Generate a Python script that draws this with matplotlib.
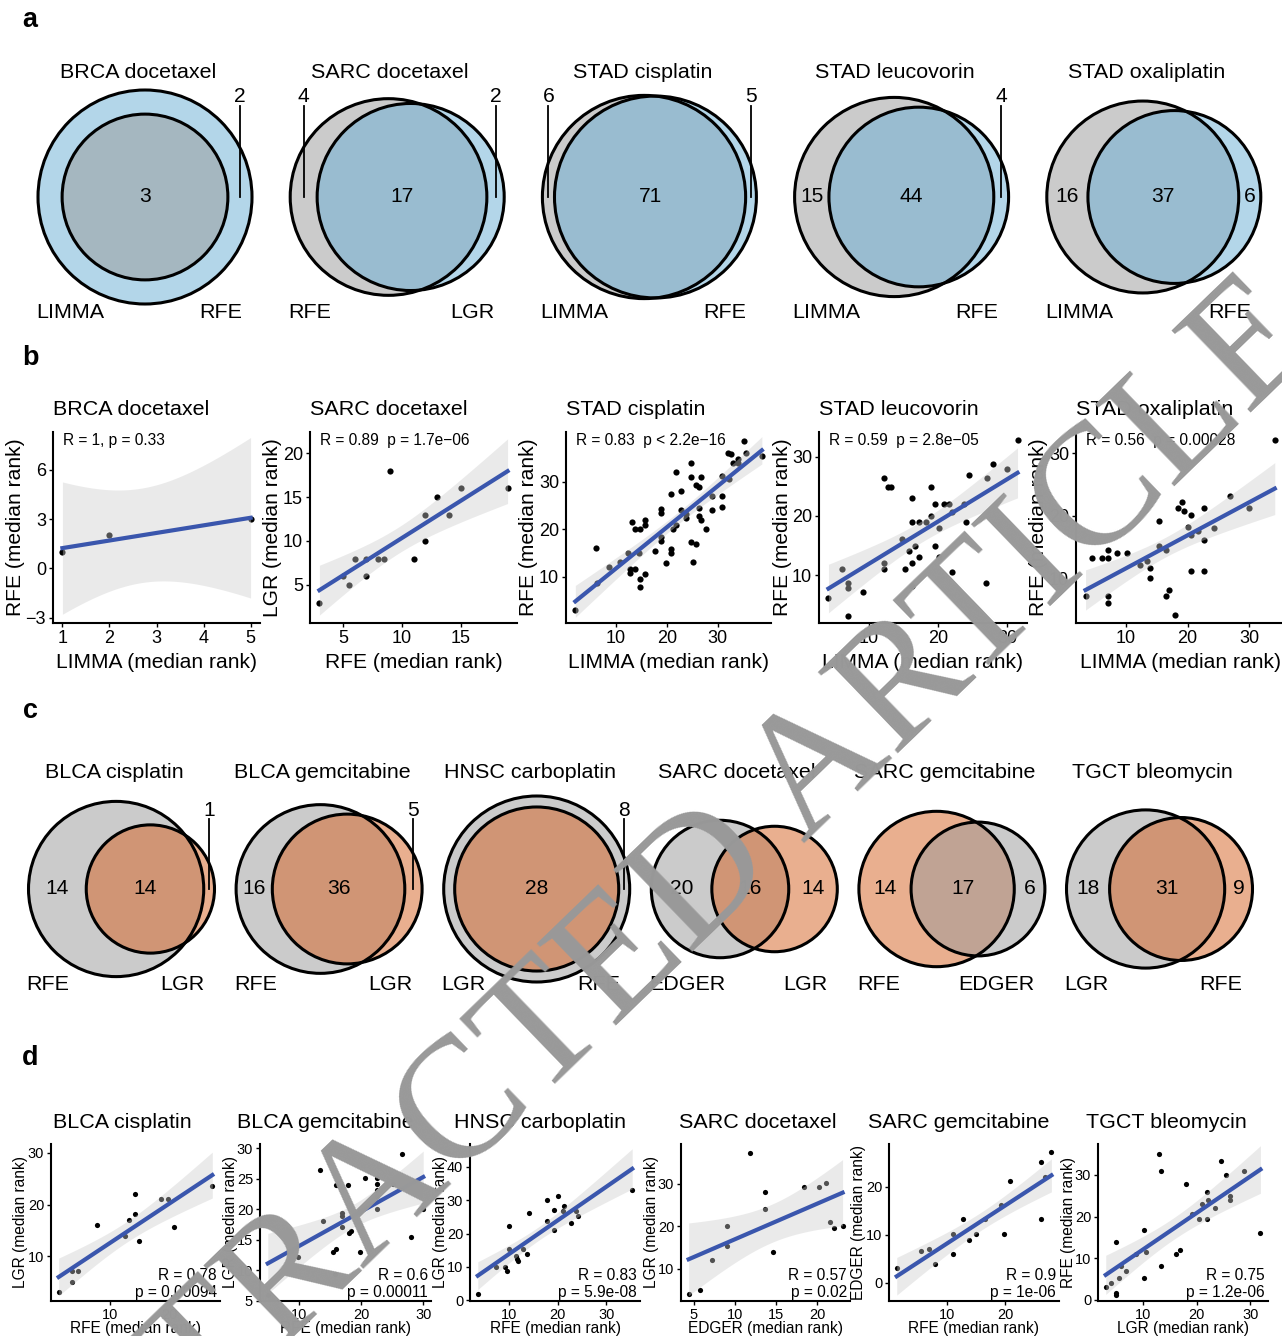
import math
import numpy as np
import matplotlib
matplotlib.use('Agg')
import matplotlib.pyplot as plt
from matplotlib.patches import Circle

plt.rcParams['font.family'] = ['Liberation Sans', 'DejaVu Sans']

W, H = 1282, 1336

# ---------------- data ----------------
# venn counts: (left only, both, right only)
a_titles = ['BRCA docetaxel', 'SARC docetaxel', 'STAD cisplatin', 'STAD leucovorin', 'STAD oxaliplatin']
a_sets = [('LIMMA', 'RFE'), ('RFE', 'LGR'), ('LIMMA', 'RFE'), ('LIMMA', 'RFE'), ('LIMMA', 'RFE')]
a_counts = [(0, 3, 2), (4, 17, 2), (6, 71, 5), (15, 44, 4), (16, 37, 6)]

c_titles = ['BLCA cisplatin', 'BLCA gemcitabine', 'HNSC carboplatin', 'SARC docetaxel',
            'SARC gemcitabine', 'TGCT bleomycin']
c_sets = [('RFE', 'LGR'), ('RFE', 'LGR'), ('LGR', 'RFE'), ('EDGER', 'LGR'), ('RFE', 'EDGER'), ('LGR', 'RFE')]
c_counts = [(14, 14, 1), (16, 36, 5), (8, 28, 0), (20, 16, 14), (14, 17, 6), (18, 31, 9)]

# panel b scatter data (median ranks)
brca_doc_x = [1, 2, 5]
brca_doc_y = [1, 2, 3]
sarc_doc_x = [3, 5, 5.5, 6, 7, 7, 8, 8.5, 9, 11, 12, 12, 13, 14, 15, 19]
sarc_doc_y = [3, 6, 5, 8, 8, 6, 8, 8, 18, 8, 10, 13, 15, 13, 16, 16]
stad_cis_x = [2, 6, 6.3, 8.7, 10.8, 12.3, 12.7, 12.8, 13.8, 13.2, 13.8, 14.8, 14.6, 14.8, 14.8,
              15.8, 15.8, 15.8, 17.7, 18.8, 18.8, 18.8, 18.8, 19.8, 20.8, 20.8, 20.8, 21.3, 21.8,
              21.8, 22.8, 22.8, 23.7, 23.7, 24.8, 24.8, 24.8, 25.8, 25.2, 25.8, 26.3, 26.8, 26.3,
              26.3, 26.8, 27.8, 28.8, 28.8, 30.8, 30.8, 30.8, 32.1, 32.6, 32.2, 33.1, 34.1, 34.1,
              35.2, 35.6, 38.7]
stad_cis_y = [3, 16, 8.6, 12, 13, 15, 11.7, 10.8, 11.7, 21.5, 20, 20, 15, 9.5, 7.9,
              10.5, 22, 21, 15.4, 24.3, 23.4, 18.4, 17.5, 12.9, 27.5, 15.8, 14.9, 20, 21,
              32, 28, 24, 23.2, 22.4, 34, 31, 17.4, 16.9, 13, 29.4, 28.9, 31, 24.4,
              22.8, 22, 20, 27, 24, 31.3, 27, 24.6, 36.1, 35.8, 30.5, 34, 34.9, 34,
              38.6, 36.1, 35.5]
stad_leu_x = [4.1, 6.0, 7.0, 7.0, 7.0, 9.1, 12.2, 12.7, 13.2, 12.2, 12.2, 14.7, 15.2, 15.8, 16.2,
              16.2, 16.2, 16.2, 16.7, 17.2, 17.2, 18.3, 19.0, 19.0, 19.6, 19.6, 20.1, 20.1, 20.8,
              21.5, 22.0, 22.0, 23.8, 24.5, 24.0, 26.9, 27.1, 28.0, 30.0, 31.5]
stad_leu_y = [6.2, 11.1, 8.6, 7.9, 3.1, 7.2, 26.4, 24.9, 24.9, 12.1, 11.1, 16.1, 11.1, 14, 23,
              19, 12.1, 8.1, 15, 19, 13, 19, 24.9, 20, 22, 15, 18, 13, 22,
              22, 20.6, 10.5, 22, 26.9, 19, 8.6, 26.4, 28.8, 27.9, 32.8]
stad_oxa_x = [3.4, 4.4, 6.0, 7.1, 7.1, 7.1, 7.1, 8.6, 10.2, 12.3, 13.4, 13.9, 13.9, 15.4, 15.4,
              16.5, 16.5, 17.0, 18.0, 18.5, 19.1, 19.5, 20.1, 20.6, 20.6, 20.6, 21.7, 22.6, 22.6,
              22.6, 24.3, 26.9, 30.0, 34.2]
stad_oxa_y = [7.1, 13.2, 13.2, 13.2, 14.6, 7.2, 6.1, 14.1, 14.1, 12.1, 12.7, 11.6, 10.1, 19.1, 15.1,
              14.6, 7.2, 8.1, 4.1, 21.2, 22.2, 20.7, 18.2, 20.1, 17.0, 11.2, 17.6, 21.2, 16.2,
              11.2, 18.1, 23.1, 21.2, 32.2]

# panel d scatter data
blca_cis_x = [1.25, 3.5, 3.5, 4.5, 7.8, 12.4, 13.2, 14.2, 14.2, 14.8, 18.6, 19.7, 20.8, 27.2]
blca_cis_y = [3.15, 5.1, 7.1, 7.1, 16.1, 14, 17.1, 18.1, 22.1, 12.9, 21.1, 21.1, 15.6, 23.5]
blca_gem_x = [5.0, 8.8, 9.9, 13.4, 13.9, 15.9, 15.9, 15.5, 15.8, 16.9, 16.9, 16.9, 17.9, 18.0,
              18.4, 19.8, 19.8, 20.6, 22.6, 22.6, 22.6, 22.6, 22.6, 25.1, 26.6, 28.0, 30.0]
blca_gem_y = [5.9, 13.1, 12.2, 26.5, 18.0, 23.9, 13.4, 12.9, 9.4, 19.3, 18.9, 17.0, 23.9, 16.1,
              16.5, 13.0, 19.7, 25.1, 25.1, 24.1, 23.1, 22.1, 20.0, 24.2, 29.1, 15.4, 20.1]
hnsc_carbo_x = [3.6, 7.4, 9.1, 9.5, 10.0, 10.0, 11.4, 11.7, 11.9, 12.9, 13.7, 14.1, 17.8, 17.8,
                19.2, 19.2, 20.1, 21.0, 21.4, 22.8, 23.8, 24.2, 35.3]
hnsc_carbo_y = [2.0, 9.9, 9.9, 8.9, 22.2, 15.3, 13.3, 12.5, 11.8, 15.5, 14.0, 26.2, 30.1, 23.7,
                27.1, 21.2, 31.1, 26.7, 28.1, 23.2, 26.7, 25.2, 32.9]
sarc_doce_x = [4.4, 5.8, 7.2, 9.0, 9.0, 11.8, 13.7, 13.7, 14.6, 18.4, 20.2, 21.1, 21.6, 22.1, 23.1]
sarc_doce_y = [3.9, 4.9, 11.9, 20.0, 15.4, 37.1, 28.1, 24.0, 14.0, 29.1, 29.1, 30.1, 21.0, 19.5, 20.0]
sarc_gem_x = [1.4, 5.6, 6.9, 7.9, 11.1, 11.1, 12.7, 13.8, 14.9, 16.6, 19.2, 19.7, 20.8, 26.2,
              26.2, 26.8, 27.9]
sarc_gem_y = [3.0, 6.6, 7.1, 4.0, 10.1, 5.9, 13.2, 9.0, 10.1, 13.2, 16.2, 10.1, 21.1, 25.2,
              13.2, 22.1, 27.2]
tgct_bleo_x = [3.1, 4.1, 5.0, 5.0, 5.0, 5.5, 5.9, 6.9, 8.75, 10.2, 10.2, 10.6, 13.0, 13.4, 13.4,
               16.25, 16.9, 18.1, 19.1, 20.5, 21.0, 22.0, 22.0, 22.2, 23.4, 24.5, 25.5, 26.25,
               26.25, 28.75, 31.9]
tgct_bleo_y = [3.2, 4.1, 14, 1.7, 1.2, 5.2, 8.1, 7, 11.1, 16.7, 5.2, 11.5, 34.9, 31, 8.1,
               11.1, 12.1, 27.9, 20.5, 19.4, 23, 26, 19.4, 24, 22.1, 33.3, 29.9, 25,
               24, 31, 16]

b_titles = ['BRCA docetaxel', 'SARC docetaxel', 'STAD cisplatin', 'STAD leucovorin', 'STAD oxaliplatin']
b_xlab = ['LIMMA', 'RFE', 'LIMMA', 'LIMMA', 'LIMMA']
b_ylab = ['RFE', 'LGR', 'RFE', 'RFE', 'RFE']
b_stats = ['R = 1, p = 0.33', 'R = 0.89  p = 1.7e\u221206', 'R = 0.83  p < 2.2e\u221216',
           'R = 0.59  p = 2.8e\u221205', 'R = 0.56  p = 0.00028']
d_titles = c_titles
d_xlab = ['RFE', 'RFE', 'RFE', 'EDGER', 'RFE', 'LGR']
d_ylab = ['LGR', 'LGR', 'LGR', 'LGR', 'EDGER', 'RFE']
d_r = ['R = 0.78', 'R = 0.6', 'R = 0.83', 'R = 0.57', 'R = 0.9', 'R = 0.75']
d_p = ['p = 0.00094', 'p = 0.00011', 'p = 5.9e-08', 'p = 0.02', 'p = 1e-06', 'p = 1.2e-06']

GRAY, BLUE, SALMON = '#999999', '#69afd5', '#d56121'

fig = plt.figure(figsize=(W / 100, H / 100), dpi=100)


def pt(px):
    return px * 0.72


def ftext(x, y, s, size, **kw):
    fig.text(x / W, 1 - y / H, s, fontsize=pt(size), **kw)


# overlay axes in pixel coordinates for the venn diagrams
ov = fig.add_axes([0, 0, 1, 1])
ov.set_xlim(0, W)
ov.set_ylim(H, 0)
ov.axis('off')


def lens_area(r1, r2, d):
    if d >= r1 + r2:
        return 0.0
    if d <= abs(r1 - r2):
        return math.pi * min(r1, r2) ** 2
    a1 = r1 ** 2 * math.acos((d * d + r1 * r1 - r2 * r2) / (2 * d * r1))
    a2 = r2 ** 2 * math.acos((d * d + r2 * r2 - r1 * r1) / (2 * d * r2))
    a3 = 0.5 * math.sqrt((-d + r1 + r2) * (d + r1 - r2) * (d - r1 + r2) * (d + r1 + r2))
    return a1 + a2 - a3


def venn(cx, cy, width, counts, colors, names, title, ext, ytitle, ylab, yext):
    lo, both, ro = counts
    r1, r2 = math.sqrt(lo + both), math.sqrt(ro + both)
    nested = lo == 0 or ro == 0
    if nested:
        k = width / 2 / max(r1, r2)
        x1 = x2 = cx
    else:
        target = math.pi * both  # area units: pi*r^2 = count
        a, b = abs(r1 - r2), r1 + r2
        for _ in range(80):
            m = (a + b) / 2
            if lens_area(r1, r2, m) > target:
                a = m
            else:
                b = m
        d = (a + b) / 2
        k = width / (r1 + d + r2)
        x1 = cx - width / 2 + r1 * k
        x2 = cx + width / 2 - r2 * k
    R1, R2 = r1 * k, r2 * k
    circ = [(x1, R1, colors[0]), (x2, R2, colors[1])]
    circ.sort(key=lambda c: -c[1])
    for x, r, col in circ:
        ov.add_patch(Circle((x, cy), r, fc=col, alpha=0.5, ec='none'))
    for x, r, col in circ:
        ov.add_patch(Circle((x, cy), r, fill=False, ec='black', lw=2.2))
    if nested:
        single = cx + (max(R1, R2) + min(R1, R2)) / 2
        items = [(both, cx, False)]
        if lo:
            items.append((lo, single, ext[0]))
        if ro:
            items.append((ro, single, ext[1]))
    else:
        items = [(lo, ((x1 - R1) + (x2 - R2)) / 2, ext[0]),
                 (both, ((x2 - R2) + (x1 + R1)) / 2, False),
                 (ro, ((x1 + R1) + (x2 + R2)) / 2, ext[1])]
    for val, x, out in items:
        if out:
            ov.text(x, yext, str(val), ha='center', va='center', fontsize=pt(21))
            ov.plot([x, x], [yext + 9, cy], color='black', lw=1.3)
        else:
            ov.text(x, cy, str(val), ha='center', va='center', fontsize=pt(21))
    ov.text(cx - 7, ytitle, title, ha='center', va='center', fontsize=pt(21.5))
    ov.text(cx - width / 2 - 2, ylab, names[0], ha='left', va='center', fontsize=pt(21.5))
    ov.text(cx + width / 2 - 10, ylab, names[1], ha='right', va='center', fontsize=pt(21.5))


a_ext = [(False, True), (True, True), (True, True), (False, True), (False, False)]
for i in range(5):
    venn(145 + 252.2 * i, 197, 214, a_counts[i], (GRAY, BLUE), a_sets[i], a_titles[i],
         a_ext[i], 72, 313, 97)

c_colors = [(GRAY, SALMON), (GRAY, SALMON), (GRAY, SALMON), (GRAY, SALMON), (SALMON, GRAY), (GRAY, SALMON)]
c_ext = [(False, True), (False, True), (True, False), (False, False), (False, False), (False, False)]
for i in range(6):
    venn(121.5 + 207.6 * i, 889, 186, c_counts[i], c_colors[i], c_sets[i], c_titles[i],
         c_ext[i], 773, 985, 810)


def t_quantile(df, p=0.975):
    c = math.gamma((df + 1) / 2) / (math.sqrt(df * math.pi) * math.gamma(df / 2))

    def cdf(t):
        xs = np.linspace(0, t, 20001)
        return 0.5 + np.trapezoid(c * (1 + xs ** 2 / df) ** (-(df + 1) / 2), xs)
    lo, hi = 0.0, 60.0
    for _ in range(60):
        mid = (lo + hi) / 2
        if cdf(mid) < p:
            lo = mid
        else:
            hi = mid
    return (lo + hi) / 2


def scatter(box, x, y, xlim, ylim, xticks, yticks, tick_px, ms):
    l, t, r, b = box
    ax = fig.add_axes([l / W, 1 - b / H, (r - l) / W, (b - t) / H])
    x = np.asarray(x, float)
    y = np.asarray(y, float)
    ax.scatter(x, y, s=ms, c='black', linewidths=0, zorder=2)
    n = len(x)
    slope, inter = np.polyfit(x, y, 1)
    xs = np.linspace(x.min(), x.max(), 100)
    yh = inter + slope * xs
    res = y - (inter + slope * x)
    s = math.sqrt(np.sum(res ** 2) / (n - 2))
    sxx = np.sum((x - x.mean()) ** 2)
    se = s * np.sqrt(1 / n + (xs - x.mean()) ** 2 / sxx)
    tq = t_quantile(n - 2)
    ax.fill_between(xs, yh - tq * se, yh + tq * se, color='#cccccc', alpha=0.4, lw=0, zorder=3)
    ax.plot(xs, yh, color='#3a56ad', lw=3, zorder=4)
    ax.set_xlim(*xlim)
    ax.set_ylim(*ylim)
    ax.set_xticks(xticks)
    ax.set_yticks(yticks)
    ax.set_yticklabels([str(v).replace('-', '\u2212') for v in yticks])
    for sp in ('top', 'right'):
        ax.spines[sp].set_visible(False)
    for sp in ('left', 'bottom'):
        ax.spines[sp].set_linewidth(1.5)
    ax.tick_params(length=3, width=1, labelsize=pt(tick_px), colors='black', pad=2)
    ax.patch.set_alpha(0)
    return ax


# ---------------- panel b ----------------
b_data = [(brca_doc_x, brca_doc_y), (sarc_doc_x, sarc_doc_y), (stad_cis_x, stad_cis_y),
          (stad_leu_x, stad_leu_y), (stad_oxa_x, stad_oxa_y)]
b_box = [(53, 432, 260, 623), (310, 432, 517, 623), (566, 432, 771, 623),
         (819, 432, 1027, 623), (1076, 432, 1284, 623)]
b_xlim = [(0.8, 5.2), (2.2, 19.8), (0.165, 40.5), (2.73, 32.87), (1.85, 35.7)]
b_ylim = [(-3.33, 8.3), (0.67, 22.4), (0.25, 40.5), (1.9, 34.2), (2.85, 33.4)]
b_xt = [[1, 2, 3, 4, 5], [5, 10, 15], [10, 20, 30], [10, 20, 30], [10, 20, 30]]
b_yt = [[-3, 0, 3, 6], [5, 10, 15, 20], [10, 20, 30], [10, 20, 30], [10, 20, 30]]
for i in range(5):
    l, t, r, b = b_box[i]
    scatter(b_box[i], *b_data[i], b_xlim[i], b_ylim[i], b_xt[i], b_yt[i], 18, 20)
    ftext(l, 409, b_titles[i], 21.5, ha='left', va='center')
    ftext(l + 10, 440, b_stats[i], 15.5, ha='left', va='center')
    ftext((l + r) / 2, 662, b_xlab[i] + ' (median rank)', 21, ha='center', va='center')
    ftext(l - 37, (t + b) / 2, b_ylab[i] + ' (median rank)', 21, ha='center', va='center',
          rotation=90)

# ---------------- panel d ----------------
d_data = [(blca_cis_x, blca_cis_y), (blca_gem_x, blca_gem_y), (hnsc_carbo_x, hnsc_carbo_y),
          (sarc_doce_x, sarc_doce_y), (sarc_gem_x, sarc_gem_y), (tgct_bleo_x, tgct_bleo_y)]
d_box = [(51, 1144, 220, 1301), (260, 1144, 431, 1301), (470, 1144, 640, 1301),
         (681, 1144, 850, 1301), (889, 1144, 1059, 1301), (1098, 1144, 1268, 1301)]
d_xlim = [(-0.05, 28.5), (3.75, 31.25), (2.0, 36.9), (3.47, 24.0), (0.07, 29.2), (1.66, 33.3)]
d_ylim = [(1.36, 31.7), (4.94, 30.7), (-0.2, 46.8), (2.36, 39.3), (-3.8, 28.9), (-0.24, 37.4)]
d_xt = [[10, 20], [10, 20, 30], [10, 20, 30], [5, 10, 15, 20], [10, 20], [10, 20, 30]]
d_yt = [[10, 20, 30], [5, 10, 15, 20, 25, 30], [0, 10, 20, 30, 40], [10, 20, 30], [0, 10, 20],
        [0, 10, 20, 30]]
d_title_x = [122, 325, 540, 758, 959, 1166]
for i in range(6):
    l, t, r, b = d_box[i]
    scatter(d_box[i], *d_data[i], d_xlim[i], d_ylim[i], d_xt[i], d_yt[i], 14.5, 14)
    ftext(d_title_x[i], 1122, d_titles[i], 21.5, ha='center', va='center')
    ftext(r - 3, 1275, d_r[i], 15.5, ha='right', va='center')
    ftext(r - 3, 1292, d_p[i], 15.5, ha='right', va='center')
    ftext((l + r) / 2, 1328, d_xlab[i] + ' (median rank)', 15.5, ha='center', va='center')
    ftext(l - 30, (t + b) / 2, d_ylab[i] + ' (median rank)', 15.5, ha='center', va='center',
          rotation=90)

# panel letters
for lab, y in zip('abcd', [20, 358, 711, 1058]):
    ftext(30, y, lab, 27, ha='center', va='center', fontweight='bold')

# watermark
fig.text(655 / W, 1 - 930 / H, 'RETRACTED ARTICLE', fontsize=125, color='#999999',
         family=['Liberation Serif', 'DejaVu Serif'], rotation=44, rotation_mode='anchor',
         ha='center', va='center', zorder=10)

fig.savefig('out.png', dpi=100)
